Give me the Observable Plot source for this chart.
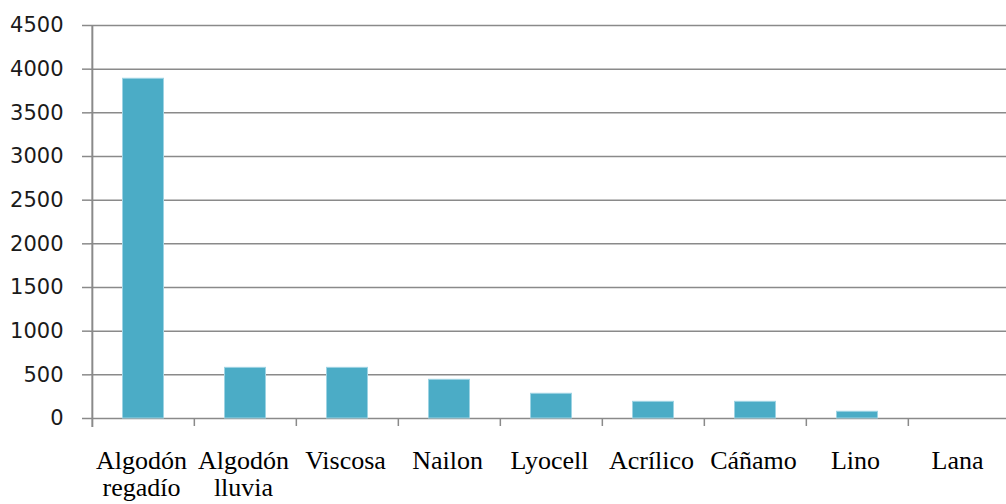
<!DOCTYPE html>
<html>
<head>
<meta charset="utf-8">
<script src="https://cdn.jsdelivr.net/npm/d3@7"></script>
<script src="https://cdn.jsdelivr.net/npm/@observablehq/plot@0.6"></script>
<style>
  html, body { margin: 0; padding: 0; background: #fff; }
  svg { display: block; }
</style>
</head>
<body>
<div id="chart"></div>
<script>
const categories = ["Algodón regadío", "Algodón lluvia", "Viscosa", "Nailon", "Lyocell", "Acrílico", "Cáñamo", "Lino", "Lana"];
const values = [3890, 580, 580, 443, 283, 191, 191, 77, 0];
const tickLabels = ["Algodón\nregadío", "Algodón\nlluvia", "Viscosa", "Nailon", "Lyocell", "Acrílico", "Cáñamo", "Lino", "Lana"];
const yTicks = [0, 500, 1000, 1500, 2000, 2500, 3000, 3500, 4000, 4500];

const data = categories.map((c, i) => ({category: c, value: values[i]}));
const labelOf = new Map(categories.map((c, i) => [c, tickLabels[i]]));

const W = 1006, H = 504;
const xRange = [90, 1011];
const bw = (xRange[1] - xRange[0]) / categories.length;
const gray = "#8a8a8a";

const chart = Plot.plot({
  width: W,
  height: H,
  marginLeft: 90,
  marginRight: 0,
  marginTop: 25,
  marginBottom: 86,
  style: {background: "#fff"},
  x: {type: "band", domain: categories, range: xRange, padding: 0},
  y: {domain: [0, 4500]},
  marks: [
    Plot.gridY(yTicks, {stroke: gray, strokeOpacity: 1, strokeWidth: 1.5}),
    Plot.axisY(yTicks, {
      tickSize: 8, tickPadding: 19, stroke: gray, strokeOpacity: 1, strokeWidth: 1.5,
      fontSize: 21, fontFamily: "DejaVu Sans", fill: "#1a1a1a",
      label: null, tickFormat: d => String(d)
    }),
    Plot.barY(data, {
      x: "category", y: "value",
      fill: "#4bacc6", stroke: "#9dd3e3", strokeWidth: 1,
      insetLeft: 30.5, insetRight: 30.5
    }),
    Plot.ruleX([categories[0]], {x: d => d, dx: -bw / 2, y1: 4500, y2: 0, insetBottom: -9, stroke: gray, strokeWidth: 2}),
    Plot.ruleX(categories.slice(1), {x: d => d, dx: -bw / 2, y1: 0, y2: 0, insetBottom: -8, stroke: gray, strokeWidth: 1.5}),
    Plot.axisX({
      tickSize: 0, tickPadding: 31,
      fontSize: 26, fontFamily: "Liberation Serif", fill: "#000",
      lineHeight: 1.05, dx: -2,
      label: null, tickFormat: d => labelOf.get(d)
    })
  ]
});
document.getElementById("chart").appendChild(chart);
</script>
</body>
</html>
